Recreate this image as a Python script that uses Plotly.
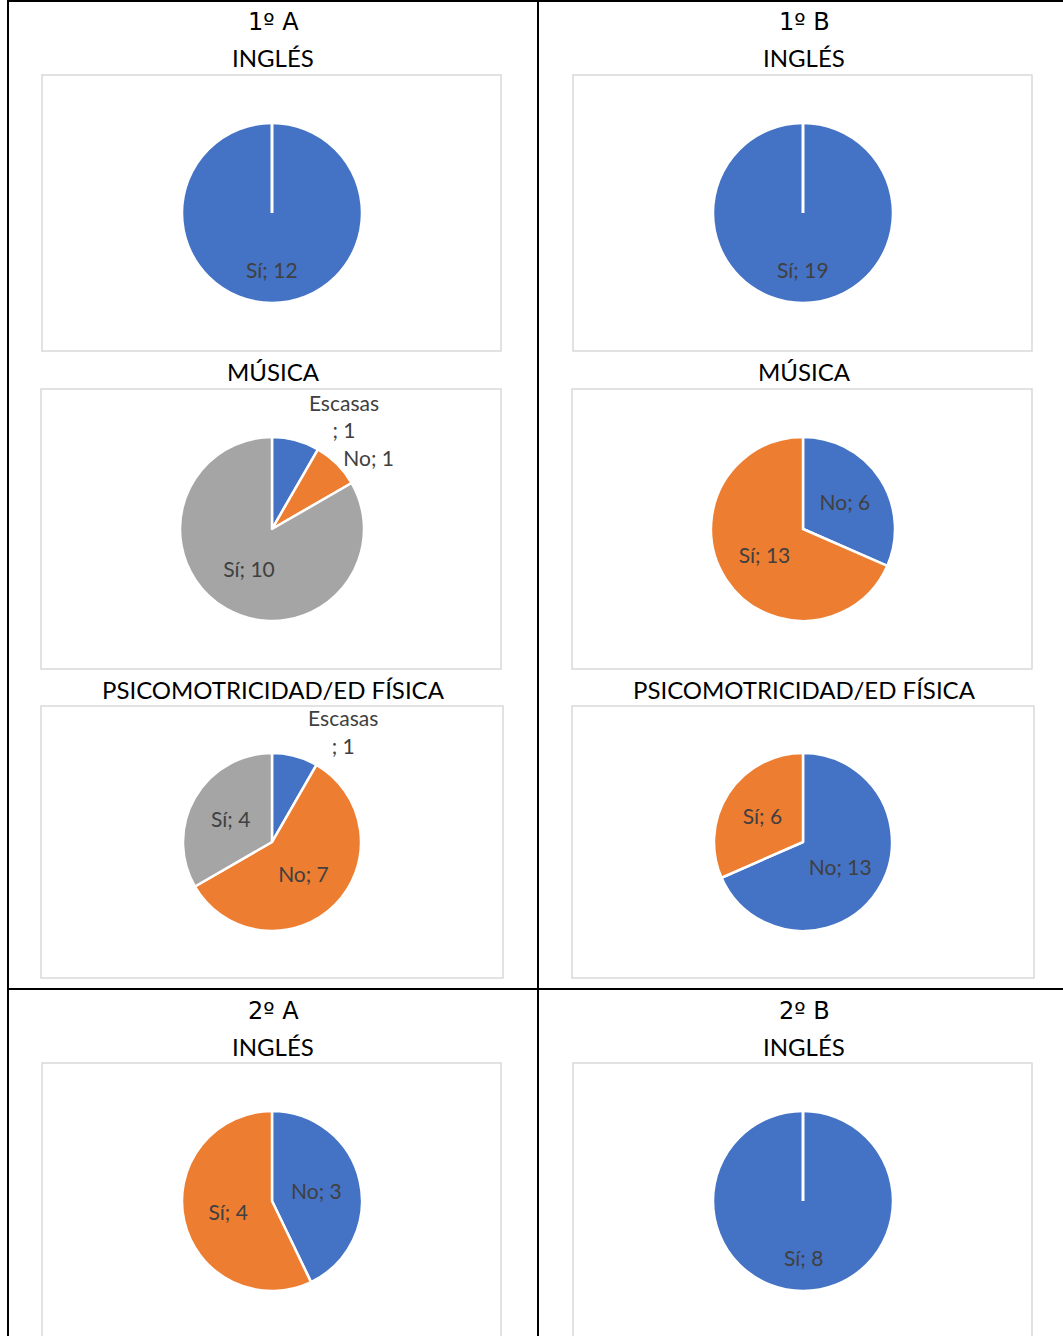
import plotly.graph_objects as go

W, H = 1063, 1336

# ---------------- data ----------------
cats_1a_ingles = ["Sí"]
vals_1a_ingles = [12]
cats_1a_musica = ["Escasas", "No", "Sí"]
vals_1a_musica = [1, 1, 10]
cats_1a_psico = ["Escasas", "No", "Sí"]
vals_1a_psico = [1, 7, 4]

cats_1b_ingles = ["Sí"]
vals_1b_ingles = [19]
cats_1b_musica = ["No", "Sí"]
vals_1b_musica = [6, 13]
cats_1b_psico = ["No", "Sí"]
vals_1b_psico = [13, 6]

cats_2a_ingles = ["No", "Sí"]
vals_2a_ingles = [3, 4]
cats_2b_ingles = ["Sí"]
vals_2b_ingles = [8]

group_titles = ["1º A", "1º B", "2º A", "2º B"]
subject_titles = ["INGLÉS", "MÚSICA", "PSICOMOTRICIDAD/ED FÍSICA"]

# ---------------- style ----------------
COLORS = ["#4472C4", "#ED7D31", "#A5A5A5"]
FONT = "Lato"
GROUP_FONT = "DejaVu Sans"
LABEL_COLOR = "#404040"
LABEL_SIZE = 21


def px(x):
    return x / W


def py(y):
    return 1 - y / H


fig = go.Figure()

# pies: (cats, vals, center x, center y, radius, textpositions, templates)
pies = [
    (cats_1a_ingles, vals_1a_ingles, 272, 213, 90, None, None),
    (cats_1b_ingles, vals_1b_ingles, 803, 213, 90, None, None),
    (cats_1a_musica, vals_1a_musica, 272, 529, 92,
     ["outside", "outside", "inside"],
     ["%{label}<br>; %{value}", "%{label}; %{value}", "%{label}; %{value}"]),
    (cats_1b_musica, vals_1b_musica, 803, 529, 92, ["inside", "inside"], None),
    (cats_1a_psico, vals_1a_psico, 272, 842, 89,
     ["outside", "inside", "inside"],
     ["%{label}<br>; %{value}", "%{label}; %{value}", "%{label}; %{value}"]),
    (cats_1b_psico, vals_1b_psico, 803, 842, 89, ["inside", "inside"], None),
    (cats_2a_ingles, vals_2a_ingles, 272, 1201, 90, ["inside", "inside"], None),
    (cats_2b_ingles, vals_2b_ingles, 803, 1201, 90, None, None),
]

annotations = []
shapes = []

for cats, vals, cx, cy, r, tpos, ttmpl in pies:
    single = len(vals) == 1
    tr = dict(
        labels=cats,
        values=vals,
        sort=False,
        direction="clockwise",
        rotation=0,
        domain=dict(x=[px(cx - r), px(cx + r)], y=[py(cy + r), py(cy - r)]),
        marker=dict(colors=COLORS[: len(vals)], line=dict(color="white", width=2.5)),
        showlegend=False,
        hoverinfo="label+value",
        insidetextorientation="horizontal",
        insidetextfont=dict(family=FONT, size=LABEL_SIZE, color=LABEL_COLOR),
        outsidetextfont=dict(family=FONT, size=LABEL_SIZE, color=LABEL_COLOR),
    )
    if single:
        tr["textinfo"] = "none"
        tr["textposition"] = "none"
    else:
        tr["textposition"] = tpos
        tr["texttemplate"] = ttmpl if ttmpl else "%{label}; %{value}"
    fig.add_trace(go.Pie(**tr))
    if single:
        # label at mid-angle (bottom) like Excel, white slice edge at top
        annotations.append(dict(
            x=px(cx), y=py(cy + 0.63 * r), xref="paper", yref="paper",
            text=f"{cats[0]}; {vals[0]}", showarrow=False,
            font=dict(family=FONT, size=LABEL_SIZE, color=LABEL_COLOR),
            xanchor="center", yanchor="middle"))
        shapes.append(dict(type="line", xref="paper", yref="paper",
                           x0=px(cx), x1=px(cx), y0=py(cy), y1=py(cy - r),
                           line=dict(color="white", width=3)))

# chart-area boxes
boxes = [
    (42, 75, 501, 351), (41, 389, 501, 669), (41, 706, 503, 978), (42, 1063, 501, 1345),
    (573, 75, 1032, 351), (572, 389, 1032, 669), (572, 706, 1034, 978), (573, 1063, 1032, 1345),
]
for x0, y0, x1, y1 in boxes:
    shapes.append(dict(type="rect", xref="paper", yref="paper",
                       x0=px(x0), x1=px(x1), y0=py(y1), y1=py(y0),
                       line=dict(color="#D9D9D9", width=1.5), fillcolor="rgba(0,0,0,0)",
                       layer="below"))

# table borders
black_lines = [
    (8, 1, 1063, 1),
    (8, 0, 8, 1336),
    (538, 0, 538, 1336),
    (8, 989, 1063, 989),
]
for x0, y0, x1, y1 in black_lines:
    shapes.append(dict(type="line", xref="paper", yref="paper",
                       x0=px(x0), x1=px(x1), y0=py(y0), y1=py(y1),
                       line=dict(color="black", width=2)))


# titles
def title(text, x, y, family=FONT, size=24):
    annotations.append(dict(x=px(x), y=py(y), xref="paper", yref="paper", text=text,
                            showarrow=False, xanchor="center", yanchor="middle",
                            font=dict(family=family, size=size, color="black")))


title(group_titles[0], 273, 22, GROUP_FONT, 24)
title(group_titles[1], 804, 22, GROUP_FONT, 24)
title(subject_titles[0], 273, 58)
title(subject_titles[0], 804, 58)
title(subject_titles[1], 273, 372)
title(subject_titles[1], 804, 372)
title(subject_titles[2], 273, 689)
title(subject_titles[2], 804, 689)
title(group_titles[2], 273, 1011, GROUP_FONT, 24)
title(group_titles[3], 804, 1011, GROUP_FONT, 24)
title(subject_titles[0], 273, 1046)
title(subject_titles[0], 804, 1046)

fig.update_layout(
    width=W, height=H,
    margin=dict(l=0, r=0, t=0, b=0),
    paper_bgcolor="white",
    plot_bgcolor="white",
    shapes=shapes,
    annotations=annotations,
    font=dict(family=FONT),
)

fig.write_html("out.html", config={"displayModeBar": False},
               post_script="document.body.style.margin='0';document.body.style.overflow='hidden';")
